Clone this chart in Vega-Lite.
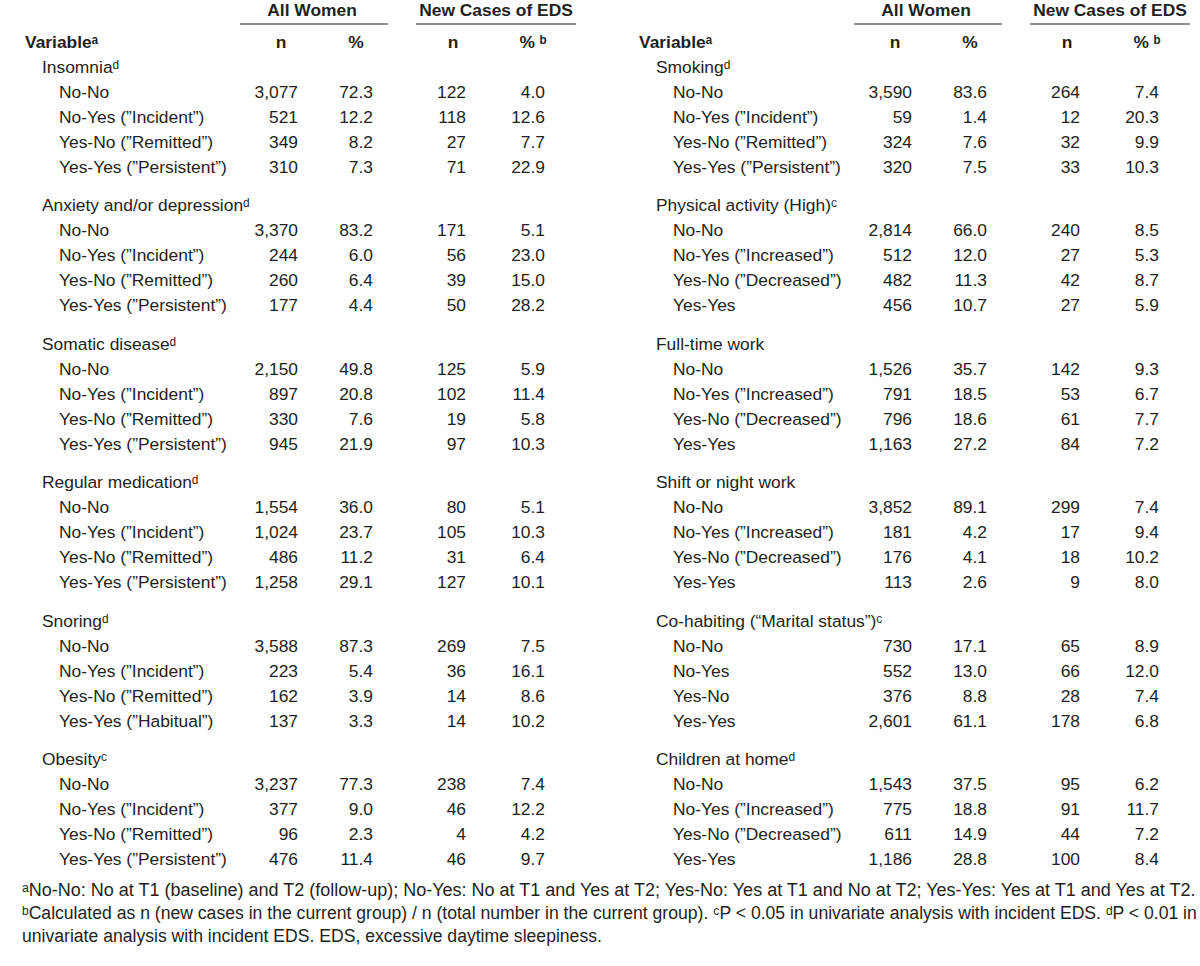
{
  "$schema": "https://vega.github.io/schema/vega-lite/v6.json",
  "width": 1200,
  "height": 966,
  "autosize": "none",
  "padding": 0,
  "background": "white",
  "config": {
    "view": {"stroke": null},
    "text": {"font": "Liberation Sans", "fontSize": 17.4, "color": "#231f20", "baseline": "middle"},
    "tick": {"color": "#2b2b2b"}
  },
  "datasets": {
    "rows": [
      {"side": "L", "block": 1, "item": 0, "label": "Insomniaᵈ"},
      {"side": "L", "block": 1, "item": 1, "label": "No-No", "n": 3077, "pct": 72.3, "n2": 122, "pct2": 4.0},
      {"side": "L", "block": 1, "item": 2, "label": "No-Yes (”Incident”)", "n": 521, "pct": 12.2, "n2": 118, "pct2": 12.6},
      {"side": "L", "block": 1, "item": 3, "label": "Yes-No (”Remitted”)", "n": 349, "pct": 8.2, "n2": 27, "pct2": 7.7},
      {"side": "L", "block": 1, "item": 4, "label": "Yes-Yes (”Persistent”)", "n": 310, "pct": 7.3, "n2": 71, "pct2": 22.9},
      {"side": "L", "block": 2, "item": 0, "label": "Anxiety and/or depressionᵈ"},
      {"side": "L", "block": 2, "item": 1, "label": "No-No", "n": 3370, "pct": 83.2, "n2": 171, "pct2": 5.1},
      {"side": "L", "block": 2, "item": 2, "label": "No-Yes (”Incident”)", "n": 244, "pct": 6.0, "n2": 56, "pct2": 23.0},
      {"side": "L", "block": 2, "item": 3, "label": "Yes-No (”Remitted”)", "n": 260, "pct": 6.4, "n2": 39, "pct2": 15.0},
      {"side": "L", "block": 2, "item": 4, "label": "Yes-Yes (”Persistent”)", "n": 177, "pct": 4.4, "n2": 50, "pct2": 28.2},
      {"side": "L", "block": 3, "item": 0, "label": "Somatic diseaseᵈ"},
      {"side": "L", "block": 3, "item": 1, "label": "No-No", "n": 2150, "pct": 49.8, "n2": 125, "pct2": 5.9},
      {"side": "L", "block": 3, "item": 2, "label": "No-Yes (”Incident”)", "n": 897, "pct": 20.8, "n2": 102, "pct2": 11.4},
      {"side": "L", "block": 3, "item": 3, "label": "Yes-No (”Remitted”)", "n": 330, "pct": 7.6, "n2": 19, "pct2": 5.8},
      {"side": "L", "block": 3, "item": 4, "label": "Yes-Yes (”Persistent”)", "n": 945, "pct": 21.9, "n2": 97, "pct2": 10.3},
      {"side": "L", "block": 4, "item": 0, "label": "Regular medicationᵈ"},
      {"side": "L", "block": 4, "item": 1, "label": "No-No", "n": 1554, "pct": 36.0, "n2": 80, "pct2": 5.1},
      {"side": "L", "block": 4, "item": 2, "label": "No-Yes (”Incident”)", "n": 1024, "pct": 23.7, "n2": 105, "pct2": 10.3},
      {"side": "L", "block": 4, "item": 3, "label": "Yes-No (”Remitted”)", "n": 486, "pct": 11.2, "n2": 31, "pct2": 6.4},
      {"side": "L", "block": 4, "item": 4, "label": "Yes-Yes (”Persistent”)", "n": 1258, "pct": 29.1, "n2": 127, "pct2": 10.1},
      {"side": "L", "block": 5, "item": 0, "label": "Snoringᵈ"},
      {"side": "L", "block": 5, "item": 1, "label": "No-No", "n": 3588, "pct": 87.3, "n2": 269, "pct2": 7.5},
      {"side": "L", "block": 5, "item": 2, "label": "No-Yes (”Incident”)", "n": 223, "pct": 5.4, "n2": 36, "pct2": 16.1},
      {"side": "L", "block": 5, "item": 3, "label": "Yes-No (”Remitted”)", "n": 162, "pct": 3.9, "n2": 14, "pct2": 8.6},
      {"side": "L", "block": 5, "item": 4, "label": "Yes-Yes (”Habitual”)", "n": 137, "pct": 3.3, "n2": 14, "pct2": 10.2},
      {"side": "L", "block": 6, "item": 0, "label": "Obesityᶜ"},
      {"side": "L", "block": 6, "item": 1, "label": "No-No", "n": 3237, "pct": 77.3, "n2": 238, "pct2": 7.4},
      {"side": "L", "block": 6, "item": 2, "label": "No-Yes (”Incident”)", "n": 377, "pct": 9.0, "n2": 46, "pct2": 12.2},
      {"side": "L", "block": 6, "item": 3, "label": "Yes-No (”Remitted”)", "n": 96, "pct": 2.3, "n2": 4, "pct2": 4.2},
      {"side": "L", "block": 6, "item": 4, "label": "Yes-Yes (”Persistent”)", "n": 476, "pct": 11.4, "n2": 46, "pct2": 9.7},
      {"side": "R", "block": 1, "item": 0, "label": "Smokingᵈ"},
      {"side": "R", "block": 1, "item": 1, "label": "No-No", "n": 3590, "pct": 83.6, "n2": 264, "pct2": 7.4},
      {"side": "R", "block": 1, "item": 2, "label": "No-Yes (”Incident”)", "n": 59, "pct": 1.4, "n2": 12, "pct2": 20.3},
      {"side": "R", "block": 1, "item": 3, "label": "Yes-No (”Remitted”)", "n": 324, "pct": 7.6, "n2": 32, "pct2": 9.9},
      {"side": "R", "block": 1, "item": 4, "label": "Yes-Yes (”Persistent”)", "n": 320, "pct": 7.5, "n2": 33, "pct2": 10.3},
      {"side": "R", "block": 2, "item": 0, "label": "Physical activity (High)ᶜ"},
      {"side": "R", "block": 2, "item": 1, "label": "No-No", "n": 2814, "pct": 66.0, "n2": 240, "pct2": 8.5},
      {"side": "R", "block": 2, "item": 2, "label": "No-Yes (”Increased”)", "n": 512, "pct": 12.0, "n2": 27, "pct2": 5.3},
      {"side": "R", "block": 2, "item": 3, "label": "Yes-No (”Decreased”)", "n": 482, "pct": 11.3, "n2": 42, "pct2": 8.7},
      {"side": "R", "block": 2, "item": 4, "label": "Yes-Yes", "n": 456, "pct": 10.7, "n2": 27, "pct2": 5.9},
      {"side": "R", "block": 3, "item": 0, "label": "Full-time work"},
      {"side": "R", "block": 3, "item": 1, "label": "No-No", "n": 1526, "pct": 35.7, "n2": 142, "pct2": 9.3},
      {"side": "R", "block": 3, "item": 2, "label": "No-Yes (”Increased”)", "n": 791, "pct": 18.5, "n2": 53, "pct2": 6.7},
      {"side": "R", "block": 3, "item": 3, "label": "Yes-No (”Decreased”)", "n": 796, "pct": 18.6, "n2": 61, "pct2": 7.7},
      {"side": "R", "block": 3, "item": 4, "label": "Yes-Yes", "n": 1163, "pct": 27.2, "n2": 84, "pct2": 7.2},
      {"side": "R", "block": 4, "item": 0, "label": "Shift or night work"},
      {"side": "R", "block": 4, "item": 1, "label": "No-No", "n": 3852, "pct": 89.1, "n2": 299, "pct2": 7.4},
      {"side": "R", "block": 4, "item": 2, "label": "No-Yes (”Increased”)", "n": 181, "pct": 4.2, "n2": 17, "pct2": 9.4},
      {"side": "R", "block": 4, "item": 3, "label": "Yes-No (”Decreased”)", "n": 176, "pct": 4.1, "n2": 18, "pct2": 10.2},
      {"side": "R", "block": 4, "item": 4, "label": "Yes-Yes", "n": 113, "pct": 2.6, "n2": 9, "pct2": 8.0},
      {"side": "R", "block": 5, "item": 0, "label": "Co-habiting (“Marital status”)ᶜ"},
      {"side": "R", "block": 5, "item": 1, "label": "No-No", "n": 730, "pct": 17.1, "n2": 65, "pct2": 8.9},
      {"side": "R", "block": 5, "item": 2, "label": "No-Yes", "n": 552, "pct": 13.0, "n2": 66, "pct2": 12.0},
      {"side": "R", "block": 5, "item": 3, "label": "Yes-No", "n": 376, "pct": 8.8, "n2": 28, "pct2": 7.4},
      {"side": "R", "block": 5, "item": 4, "label": "Yes-Yes", "n": 2601, "pct": 61.1, "n2": 178, "pct2": 6.8},
      {"side": "R", "block": 6, "item": 0, "label": "Children at homeᵈ"},
      {"side": "R", "block": 6, "item": 1, "label": "No-No", "n": 1543, "pct": 37.5, "n2": 95, "pct2": 6.2},
      {"side": "R", "block": 6, "item": 2, "label": "No-Yes (”Increased”)", "n": 775, "pct": 18.8, "n2": 91, "pct2": 11.7},
      {"side": "R", "block": 6, "item": 3, "label": "Yes-No (”Decreased”)", "n": 611, "pct": 14.9, "n2": 44, "pct2": 7.2},
      {"side": "R", "block": 6, "item": 4, "label": "Yes-Yes", "n": 1186, "pct": 28.8, "n2": 100, "pct2": 8.4}
    ],
    "head": [
      {"side": "L", "hrow": 1, "col": "aw", "text": "All Women"},
      {"side": "L", "hrow": 1, "col": "eds", "text": "New Cases of EDS"},
      {"side": "L", "hrow": 2, "col": "var", "text": "Variableᵃ"},
      {"side": "L", "hrow": 2, "col": "n1", "text": "n"},
      {"side": "L", "hrow": 2, "col": "p1", "text": "%"},
      {"side": "L", "hrow": 2, "col": "n2", "text": "n"},
      {"side": "L", "hrow": 2, "col": "p2", "text": "% ᵇ"},
      {"side": "R", "hrow": 1, "col": "aw", "text": "All Women"},
      {"side": "R", "hrow": 1, "col": "eds", "text": "New Cases of EDS"},
      {"side": "R", "hrow": 2, "col": "var", "text": "Variableᵃ"},
      {"side": "R", "hrow": 2, "col": "n1", "text": "n"},
      {"side": "R", "hrow": 2, "col": "p1", "text": "%"},
      {"side": "R", "hrow": 2, "col": "n2", "text": "n"},
      {"side": "R", "hrow": 2, "col": "p2", "text": "% ᵇ"}
    ],
    "notes": [
      {"line": 1, "text": "ᵃNo-No: No at T1 (baseline) and T2 (follow-up); No-Yes: No at T1 and Yes at T2; Yes-No: Yes at T1 and No at T2; Yes-Yes: Yes at T1 and Yes at T2."},
      {"line": 2, "text": "ᵇCalculated as n (new cases in the current group) / n (total number in the current group). ᶜP < 0.05 in univariate analysis with incident EDS. ᵈP < 0.01 in"},
      {"line": 3, "text": "univariate analysis with incident EDS. EDS, excessive daytime sleepiness."}
    ]
  },
  "layer": [
    {
      "data": {"name": "rows"},
      "transform": [{"filter": "datum.item == 0"}],
      "mark": {"type": "text", "align": "left"},
      "encoding": {
        "x": {"field": "side", "type": "nominal", "scale": {"type": "point", "domain": ["L", "R"], "range": [42, 656], "padding": 0}, "axis": null},
        "y": {"field": "block", "type": "ordinal", "scale": {"type": "point", "domain": [1, 2, 3, 4, 5, 6], "range": [68, 760], "padding": 0}, "axis": null},
        "yOffset": {"field": "item", "type": "quantitative", "scale": {"domain": [0, 4], "range": [0, 100]}},
        "text": {"field": "label"}
      }
    },
    {
      "data": {"name": "rows"},
      "transform": [{"filter": "datum.item > 0"}],
      "mark": {"type": "text", "align": "left"},
      "encoding": {
        "x": {"field": "side", "type": "nominal", "scale": {"type": "point", "domain": ["L", "R"], "range": [59, 673], "padding": 0}, "axis": null},
        "y": {"field": "block", "type": "ordinal", "scale": {"type": "point", "domain": [1, 2, 3, 4, 5, 6], "range": [68, 760], "padding": 0}, "axis": null},
        "yOffset": {"field": "item", "type": "quantitative", "scale": {"domain": [0, 4], "range": [0, 100]}},
        "text": {"field": "label"}
      }
    },
    {
      "data": {"name": "rows"},
      "transform": [{"filter": "datum.item > 0"}],
      "mark": {"type": "text", "align": "right"},
      "encoding": {
        "x": {"field": "side", "type": "nominal", "scale": {"type": "point", "domain": ["L", "R"], "range": [298, 912], "padding": 0}, "axis": null},
        "y": {"field": "block", "type": "ordinal", "scale": {"type": "point", "domain": [1, 2, 3, 4, 5, 6], "range": [68, 760], "padding": 0}, "axis": null},
        "yOffset": {"field": "item", "type": "quantitative", "scale": {"domain": [0, 4], "range": [0, 100]}},
        "text": {"field": "n", "type": "quantitative", "format": ",d"}
      }
    },
    {
      "data": {"name": "rows"},
      "transform": [{"filter": "datum.item > 0"}],
      "mark": {"type": "text", "align": "right"},
      "encoding": {
        "x": {"field": "side", "type": "nominal", "scale": {"type": "point", "domain": ["L", "R"], "range": [373, 987], "padding": 0}, "axis": null},
        "y": {"field": "block", "type": "ordinal", "scale": {"type": "point", "domain": [1, 2, 3, 4, 5, 6], "range": [68, 760], "padding": 0}, "axis": null},
        "yOffset": {"field": "item", "type": "quantitative", "scale": {"domain": [0, 4], "range": [0, 100]}},
        "text": {"field": "pct", "type": "quantitative", "format": ".1f"}
      }
    },
    {
      "data": {"name": "rows"},
      "transform": [{"filter": "datum.item > 0"}],
      "mark": {"type": "text", "align": "right"},
      "encoding": {
        "x": {"field": "side", "type": "nominal", "scale": {"type": "point", "domain": ["L", "R"], "range": [466, 1080], "padding": 0}, "axis": null},
        "y": {"field": "block", "type": "ordinal", "scale": {"type": "point", "domain": [1, 2, 3, 4, 5, 6], "range": [68, 760], "padding": 0}, "axis": null},
        "yOffset": {"field": "item", "type": "quantitative", "scale": {"domain": [0, 4], "range": [0, 100]}},
        "text": {"field": "n2", "type": "quantitative", "format": ",d"}
      }
    },
    {
      "data": {"name": "rows"},
      "transform": [{"filter": "datum.item > 0"}],
      "mark": {"type": "text", "align": "right"},
      "encoding": {
        "x": {"field": "side", "type": "nominal", "scale": {"type": "point", "domain": ["L", "R"], "range": [545, 1159], "padding": 0}, "axis": null},
        "y": {"field": "block", "type": "ordinal", "scale": {"type": "point", "domain": [1, 2, 3, 4, 5, 6], "range": [68, 760], "padding": 0}, "axis": null},
        "yOffset": {"field": "item", "type": "quantitative", "scale": {"domain": [0, 4], "range": [0, 100]}},
        "text": {"field": "pct2", "type": "quantitative", "format": ".1f"}
      }
    },
    {
      "data": {"name": "head"},
      "transform": [{"filter": "datum.col == 'aw'"}],
      "mark": {"type": "text", "align": "center", "fontWeight": "bold"},
      "encoding": {
        "x": {"field": "side", "type": "nominal", "scale": {"type": "point", "domain": ["L", "R"], "range": [312, 926], "padding": 0}, "axis": null},
        "y": {"field": "hrow", "type": "ordinal", "scale": {"type": "point", "domain": [1, 2], "range": [11, 43], "padding": 0}, "axis": null},
        "text": {"field": "text"}
      }
    },
    {
      "data": {"name": "head"},
      "transform": [{"filter": "datum.col == 'eds'"}],
      "mark": {"type": "text", "align": "center", "fontWeight": "bold"},
      "encoding": {
        "x": {"field": "side", "type": "nominal", "scale": {"type": "point", "domain": ["L", "R"], "range": [496, 1110], "padding": 0}, "axis": null},
        "y": {"field": "hrow", "type": "ordinal", "scale": {"type": "point", "domain": [1, 2], "range": [11, 43], "padding": 0}, "axis": null},
        "text": {"field": "text"}
      }
    },
    {
      "data": {"name": "head"},
      "transform": [{"filter": "datum.col == 'var'"}],
      "mark": {"type": "text", "align": "left", "fontWeight": "bold"},
      "encoding": {
        "x": {"field": "side", "type": "nominal", "scale": {"type": "point", "domain": ["L", "R"], "range": [25, 639], "padding": 0}, "axis": null},
        "y": {"field": "hrow", "type": "ordinal", "scale": {"type": "point", "domain": [1, 2], "range": [11, 43], "padding": 0}, "axis": null},
        "text": {"field": "text"}
      }
    },
    {
      "data": {"name": "head"},
      "transform": [{"filter": "datum.col == 'n1'"}],
      "mark": {"type": "text", "align": "center", "fontWeight": "bold"},
      "encoding": {
        "x": {"field": "side", "type": "nominal", "scale": {"type": "point", "domain": ["L", "R"], "range": [281, 895], "padding": 0}, "axis": null},
        "y": {"field": "hrow", "type": "ordinal", "scale": {"type": "point", "domain": [1, 2], "range": [11, 43], "padding": 0}, "axis": null},
        "text": {"field": "text"}
      }
    },
    {
      "data": {"name": "head"},
      "transform": [{"filter": "datum.col == 'p1'"}],
      "mark": {"type": "text", "align": "center", "fontWeight": "bold"},
      "encoding": {
        "x": {"field": "side", "type": "nominal", "scale": {"type": "point", "domain": ["L", "R"], "range": [356, 970], "padding": 0}, "axis": null},
        "y": {"field": "hrow", "type": "ordinal", "scale": {"type": "point", "domain": [1, 2], "range": [11, 43], "padding": 0}, "axis": null},
        "text": {"field": "text"}
      }
    },
    {
      "data": {"name": "head"},
      "transform": [{"filter": "datum.col == 'n2'"}],
      "mark": {"type": "text", "align": "center", "fontWeight": "bold"},
      "encoding": {
        "x": {"field": "side", "type": "nominal", "scale": {"type": "point", "domain": ["L", "R"], "range": [453, 1067], "padding": 0}, "axis": null},
        "y": {"field": "hrow", "type": "ordinal", "scale": {"type": "point", "domain": [1, 2], "range": [11, 43], "padding": 0}, "axis": null},
        "text": {"field": "text"}
      }
    },
    {
      "data": {"name": "head"},
      "transform": [{"filter": "datum.col == 'p2'"}],
      "mark": {"type": "text", "align": "center", "fontWeight": "bold"},
      "encoding": {
        "x": {"field": "side", "type": "nominal", "scale": {"type": "point", "domain": ["L", "R"], "range": [533, 1147], "padding": 0}, "axis": null},
        "y": {"field": "hrow", "type": "ordinal", "scale": {"type": "point", "domain": [1, 2], "range": [11, 43], "padding": 0}, "axis": null},
        "text": {"field": "text"}
      }
    },
    {
      "data": {"name": "head"},
      "transform": [{"filter": "datum.col == 'aw'"}],
      "mark": {"type": "tick", "orient": "horizontal", "size": 148, "thickness": 1.6},
      "encoding": {
        "x": {"field": "side", "type": "nominal", "scale": {"type": "point", "domain": ["L", "R"], "range": [314, 928], "padding": 0}, "axis": null},
        "y": {"field": "hrow", "type": "ordinal", "scale": {"type": "point", "domain": [1, 2], "range": [24, 56], "padding": 0}, "axis": null}
      }
    },
    {
      "data": {"name": "head"},
      "transform": [{"filter": "datum.col == 'eds'"}],
      "mark": {"type": "tick", "orient": "horizontal", "size": 160, "thickness": 1.6},
      "encoding": {
        "x": {"field": "side", "type": "nominal", "scale": {"type": "point", "domain": ["L", "R"], "range": [496, 1110], "padding": 0}, "axis": null},
        "y": {"field": "hrow", "type": "ordinal", "scale": {"type": "point", "domain": [1, 2], "range": [24, 56], "padding": 0}, "axis": null}
      }
    },
    {
      "data": {"name": "notes"},
      "transform": [{"filter": "datum.line == 1"}],
      "mark": {"type": "text", "align": "left", "fontSize": 18},
      "encoding": {
        "x": {"field": "line", "type": "ordinal", "scale": {"type": "point", "domain": [1, 2, 3], "range": [22, 22], "padding": 0}, "axis": null},
        "y": {"field": "line", "type": "ordinal", "scale": {"type": "point", "domain": [1, 2, 3], "range": [891, 937], "padding": 0}, "axis": null},
        "text": {"field": "text"}
      }
    },
    {
      "data": {"name": "notes"},
      "transform": [{"filter": "datum.line > 1"}],
      "mark": {"type": "text", "align": "left", "fontSize": 17.6},
      "encoding": {
        "x": {"field": "line", "type": "ordinal", "scale": {"type": "point", "domain": [1, 2, 3], "range": [22, 22], "padding": 0}, "axis": null},
        "y": {"field": "line", "type": "ordinal", "scale": {"type": "point", "domain": [1, 2, 3], "range": [891, 937], "padding": 0}, "axis": null},
        "text": {"field": "text"}
      }
    }
  ],
  "resolve": {"scale": {"x": "independent", "y": "independent", "yOffset": "independent"}}
}
